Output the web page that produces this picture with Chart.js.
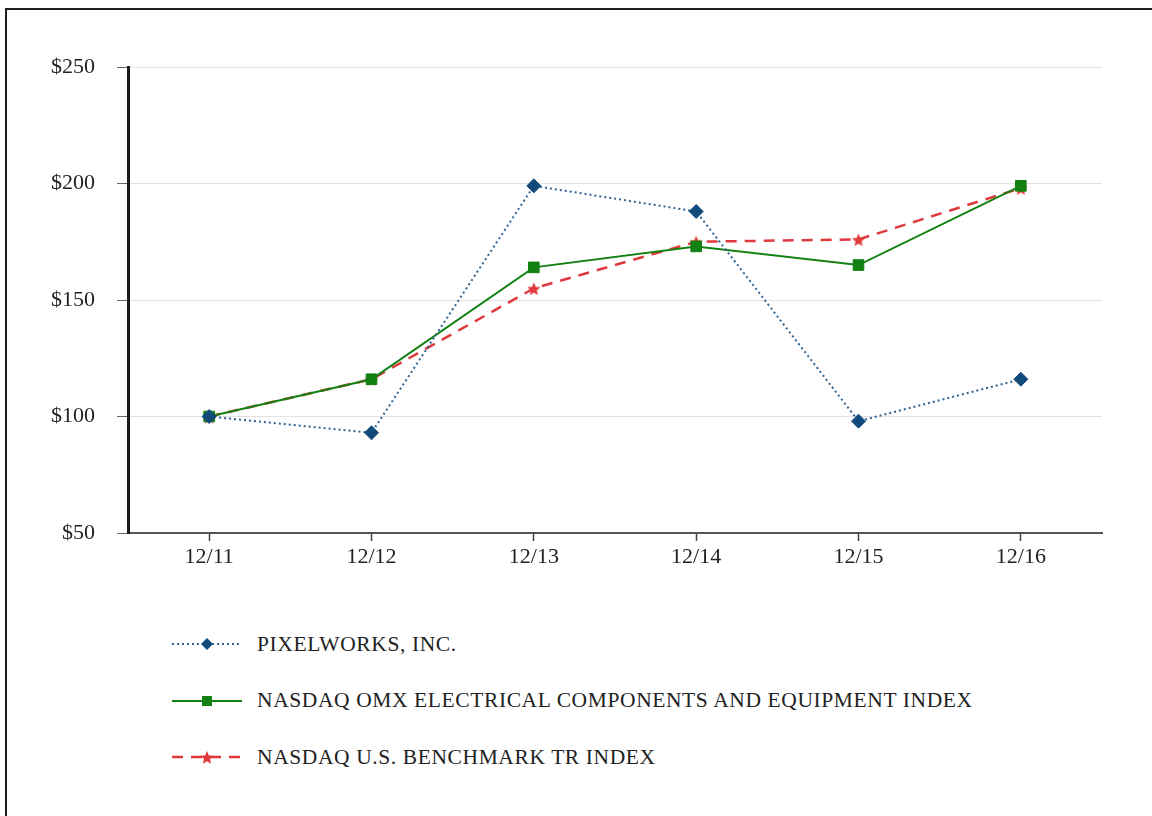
<!DOCTYPE html>
<html>
<head>
<meta charset="utf-8">
<script src="https://cdn.jsdelivr.net/npm/chart.js@4.4.1/dist/chart.umd.min.js"></script>
<style>
  body { margin: 0; background: #fff; width: 1152px; height: 816px; overflow: hidden; position: relative; font-family: "Liberation Serif", "Times New Roman", serif; }
  #frame { position: absolute; left: 5px; top: 8px; width: 1200px; height: 900px; border: 2px solid #1e1e1e; }
  #wrap { position: absolute; left: 0; top: 0; width: 1152px; height: 580px; }
  #legend { position: absolute; left: 172px; top: 616px; }
  .row { height: 56.5px; display: flex; align-items: center; }
  .row svg { width: 70px; height: 20px; margin-right: 15px; }
  .row span { font-size: 21.5px; letter-spacing: 0.6px; color: #222; }
</style>
</head>
<body>
<div id="frame"></div>
<div id="wrap"><canvas id="grafico"></canvas></div>
<div id="legend"></div>
<script>
// valores
const periodos = ['12/11', '12/12', '12/13', '12/14', '12/15', '12/16'];
const pixelworks = [100, 93, 199, 188, 98, 116];
const omxEletrico = [100, 116, 164, 173, 165, 199];
const benchmarkUS = [100, 116, 155, 175, 176, 198];
const ticksY = [50, 100, 150, 200, 250];

const fonte = { family: '"Liberation Serif", "Times New Roman", serif', size: 22 };

function geraEstrela(cor, r) {
  const c = document.createElement('canvas');
  c.width = c.height = r * 2;
  const ctx = c.getContext('2d');
  ctx.fillStyle = cor;
  ctx.beginPath();
  for (let i = 0; i < 10; i++) {
    const raio = i % 2 === 0 ? r : r * 0.45;
    const ang = -Math.PI / 2 + i * Math.PI / 5;
    ctx.lineTo(r + raio * Math.cos(ang), r + raio * Math.sin(ang) + 1);
  }
  ctx.closePath();
  ctx.fill();
  return c;
}

const azul = '#134a7c';
const verde = '#128112';
const vermelho = '#e0393c';

const grafico = new Chart(document.getElementById('grafico'), {
  type: 'line',
  data: {
    labels: periodos,
    datasets: [{
      label: 'PIXELWORKS, INC.',
      data: pixelworks,
      borderColor: '#2f6494',
      borderWidth: 2,
      borderDash: [2, 3],
      pointStyle: 'rectRot',
      pointRadius: 7,
      pointBackgroundColor: azul,
      pointBorderColor: azul,
      pointBorderWidth: 1
    }, {
      label: 'NASDAQ OMX ELECTRICAL COMPONENTS AND EQUIPMENT INDEX',
      data: omxEletrico,
      borderColor: verde,
      borderWidth: 2,
      pointStyle: 'rect',
      pointRadius: 7.5,
      pointBackgroundColor: verde,
      pointBorderColor: verde,
      pointBorderWidth: 1
    }, {
      label: 'NASDAQ U.S. BENCHMARK TR INDEX',
      data: benchmarkUS,
      borderColor: vermelho,
      borderWidth: 2.5,
      borderDash: [11, 8],
      pointStyle: geraEstrela(vermelho, 7),
      pointBackgroundColor: vermelho,
      pointBorderColor: vermelho
    }]
  },
  options: {
    responsive: true,
    maintainAspectRatio: false,
    animation: false,
    layout: { padding: { top: 67, right: 50, left: 0, bottom: 0 } },
    plugins: { legend: { display: false }, tooltip: { enabled: false } },
    elements: { line: { tension: 0 } },
    scales: {
      x: {
        offset: true,
        grid: { offset: false, drawOnChartArea: false, tickLength: 8, tickColor: '#444', tickWidth: 1.5 },
        border: { color: '#555', width: 2 },
        ticks: { font: fonte, color: '#222', padding: 3 },
        afterFit: s => { s.height = 47 }
      },
      y: {
        min: 50,
        max: 250,
        afterBuildTicks: s => { s.ticks = ticksY.map(v => ({ value: v })) },
        grid: { color: '#e2e2e2', lineWidth: 1, tickLength: 11, tickColor: '#666' },
        border: { color: '#1a1a1a', width: 3 },
        ticks: { font: fonte, color: '#222', padding: 22, callback: v => '$' + v },
        afterFit: s => { s.width = 128 }
      }
    }
  }
});

// legenda em html, montada a partir dos datasets
function montaLegenda(grafico) {
  const legenda = document.getElementById('legend');
  grafico.data.datasets.forEach(ds => {
    const linha = document.createElement('div');
    linha.className = 'row';
    const dash = ds.borderDash ? ds.borderDash.join(',') : 'none';
    let marca = '';
    if (ds.pointStyle === 'rectRot') {
      marca = `<polygon points="35,4 41,10 35,16 29,10" fill="${ds.pointBackgroundColor}"/>`;
    } else if (ds.pointStyle === 'rect') {
      marca = `<rect x="30" y="5" width="10" height="10" fill="${ds.pointBackgroundColor}"/>`;
    } else {
      marca = `<image href="${ds.pointStyle.toDataURL()}" x="28" y="3" width="14" height="14"/>`;
    }
    linha.innerHTML = `<svg viewBox="0 0 70 20"><line x1="0" y1="10" x2="70" y2="10" stroke="${ds.borderColor}" stroke-width="${ds.borderWidth}" stroke-dasharray="${dash}"/>${marca}</svg><span>${ds.label}</span>`;
    legenda.appendChild(linha);
  });
}
montaLegenda(grafico);
</script>
</body>
</html>
